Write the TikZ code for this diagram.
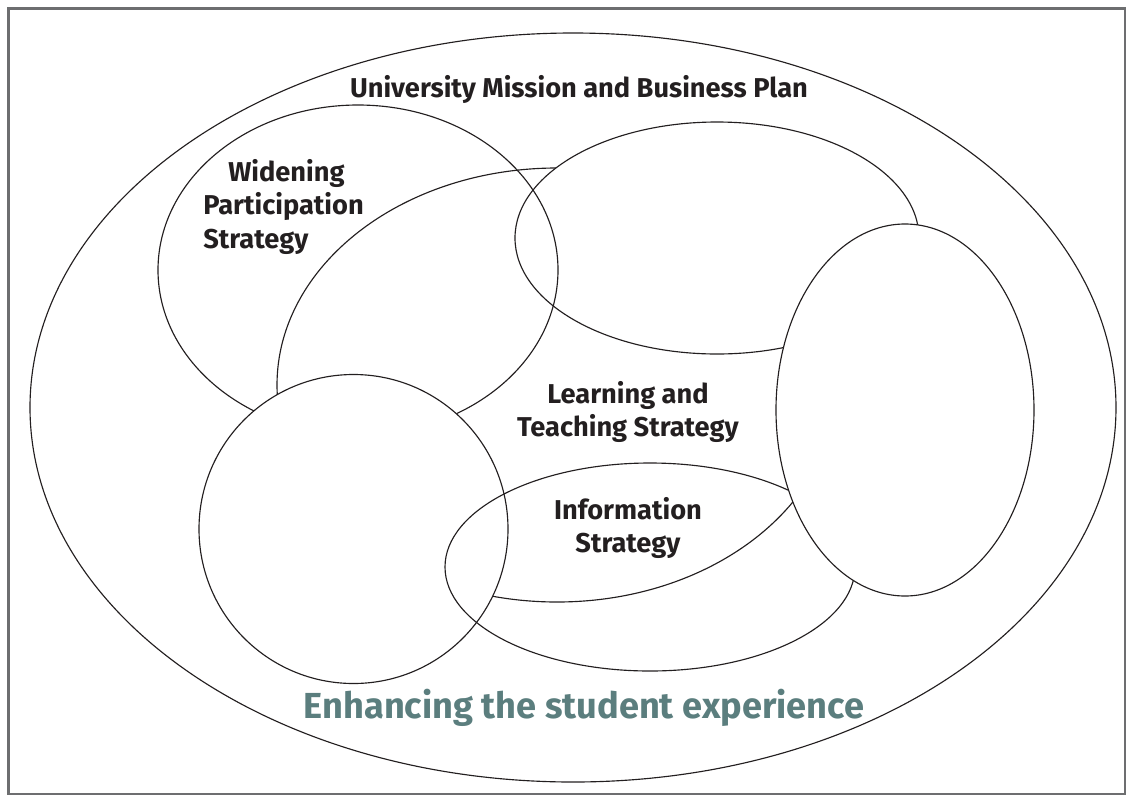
\documentclass[tikz,border=0pt]{standalone}
\usepackage{fontspec}
\setmainfont{Fira Sans}
\usetikzlibrary{positioning}
\definecolor{inkline}{HTML}{231F20}
\definecolor{framegray}{HTML}{6D6E70}
\definecolor{tealgray}{HTML}{5B7E7E}
\begin{document}
\begin{tikzpicture}[x=0.02cm,y=-0.02cm,
  every node/.style={font=\bfseries\fontsize{15.5}{19}\selectfont,text=inkline,inner sep=0pt},
  ring/.style={draw=inkline,line width=0.65pt},
  cover/.style={ring,fill=white}]
  \useasboundingbox (0,0) rectangle (1133,802);
  \draw[framegray,line width=1.2pt] (8.5,8.5) rectangle (1125,794);
  % the strategies, back to front
  \draw[ring] (573,407.5) ellipse (543 and 374.5);
  \draw[ring] (557,385) ellipse (280 and 217);
  \draw[cover] (717,238) ellipse (202 and 116);
  \draw[ring] (358,270) ellipse (200 and 165);
  \draw[cover] (353.5,529) circle (154.5);
  \draw[ring] (650,567) ellipse (205 and 104);
  \draw[cover] (905,410) ellipse (129 and 186);
  % labels
  \node[anchor=base] (mission) at (579,97) {University Mission and Business Plan};
  \node[align=left,anchor=north west] (wpText) at (203,159) {\hspace*{0.5cm}Widening\\Participation\\Strategy};
  \node[align=center,anchor=north] (ltText) at (628,381) {Learning and\\Teaching Strategy};
  \node[align=center,anchor=north] (infoText) at (628,497) {Information\\Strategy};
  \node[anchor=base,text=tealgray,font=\bfseries\fontsize{20.6}{24}\selectfont] (studentText) at (584,718) {Enhancing the student experience};
\end{tikzpicture}
\end{document}
